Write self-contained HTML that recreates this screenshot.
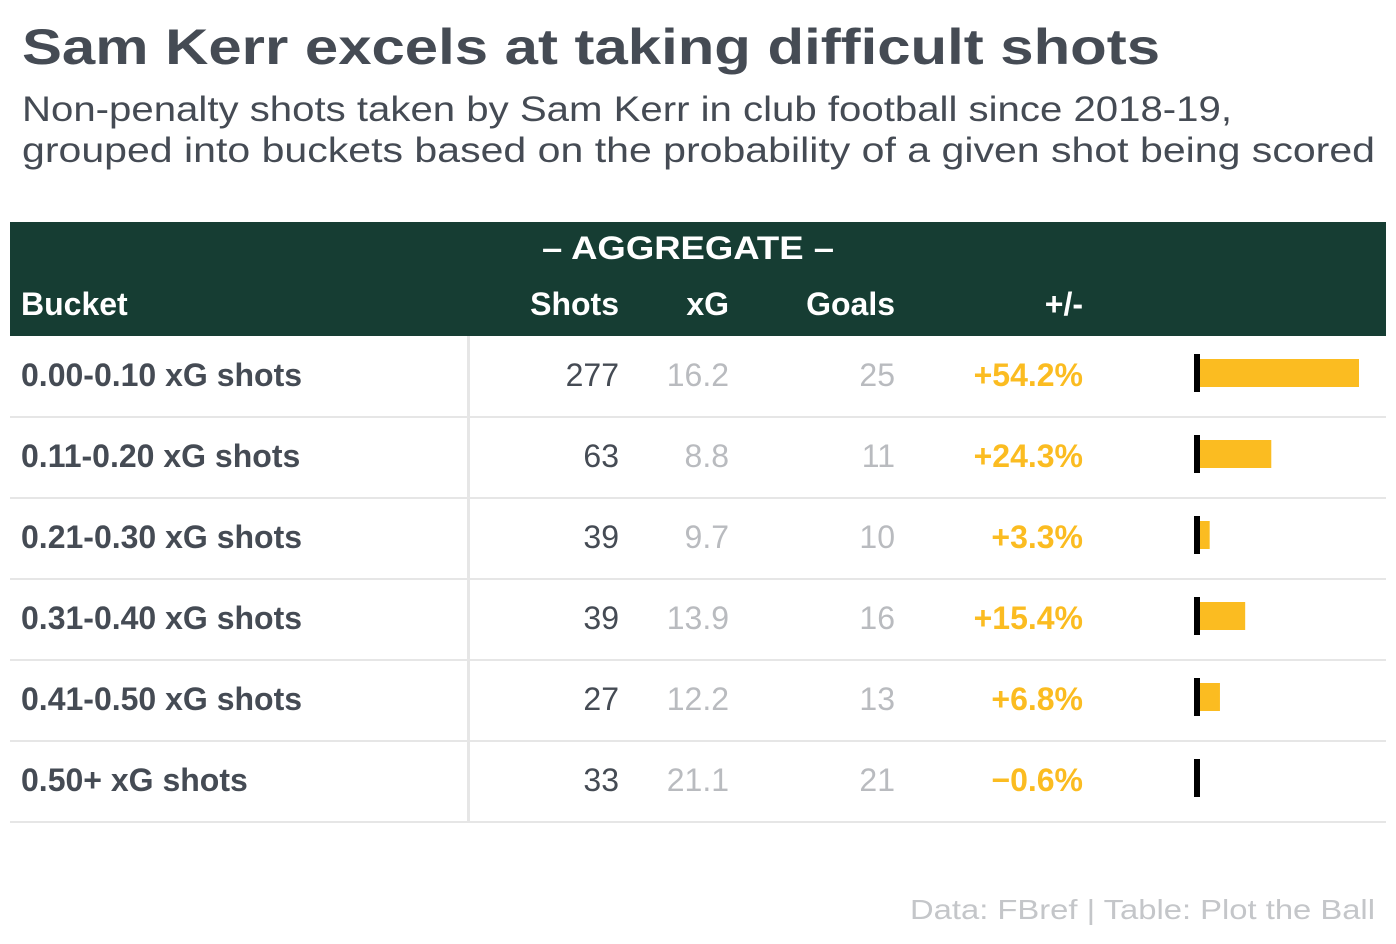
<!DOCTYPE html>
<html><head><meta charset="utf-8"><style>
html,body{margin:0;padding:0;background:#fff;}
svg{display:block;font-family:"Liberation Sans",sans-serif;}
</style></head><body>
<svg id="c" width="1396" height="944" xmlns="http://www.w3.org/2000/svg">
<text x="22" y="64" font-size="50" font-weight="bold" fill="#454b54" textLength="1138" lengthAdjust="spacingAndGlyphs">Sam Kerr excels at taking difficult shots</text>
<text x="22" y="121" font-size="35" fill="#454b54" textLength="1210" lengthAdjust="spacingAndGlyphs">Non-penalty shots taken by Sam Kerr in club football since 2018-19,</text>
<text x="22" y="162" font-size="35" fill="#454b54" textLength="1353" lengthAdjust="spacingAndGlyphs">grouped into buckets based on the probability of a given shot being scored</text>
<rect x="10" y="222" width="1376" height="114" fill="#163d33"/>
<text x="688" y="259" font-size="32" font-weight="bold" fill="#fff" text-anchor="middle" textLength="292" lengthAdjust="spacingAndGlyphs">– AGGREGATE –</text>
<text x="21" y="315" font-size="32" font-weight="bold" fill="#fff">Bucket</text>
<text x="619" y="315" font-size="32" font-weight="bold" fill="#fff" text-anchor="end">Shots</text>
<text x="729" y="315" font-size="32" font-weight="bold" fill="#fff" text-anchor="end">xG</text>
<text x="895" y="315" font-size="32" font-weight="bold" fill="#fff" text-anchor="end">Goals</text>
<text x="1083" y="315" font-size="32" font-weight="bold" fill="#fff" text-anchor="end">+/-</text>
<g id="rows"></g>
<text x="1375" y="919" font-size="28" fill="#c4c6c9" text-anchor="end" textLength="465" lengthAdjust="spacingAndGlyphs">Data: FBref | Table: Plot the Ball</text>
</svg>
<script>
const buckets=["0.00-0.10 xG shots","0.11-0.20 xG shots","0.21-0.30 xG shots","0.31-0.40 xG shots","0.41-0.50 xG shots","0.50+ xG shots"];
const shots=[277,63,39,39,27,33];
const xg=["16.2","8.8","9.7","13.9","12.2","21.1"];
const goals=[25,11,10,16,13,21];
const diff=[54.2,24.3,3.3,15.4,6.8,-0.6];
const NS="http://www.w3.org/2000/svg";
const g=document.getElementById("rows");
const top0=336,rowH=81,barX=1200,pxPer=159/54.2;
function mk(tag,attrs,txt){const e=document.createElementNS(NS,tag);for(const k in attrs)e.setAttribute(k,attrs[k]);if(txt!==undefined)e.textContent=txt;g.appendChild(e);return e;}
buckets.forEach((b,i)=>{
  const y=top0+i*rowH, ty=y+50, cy=y+37;
  let e;
  e=mk("text",{x:21,y:ty,"font-size":32,"font-weight":"bold",fill:"#454b54"},b);
  
  
  e=mk("text",{x:619,y:ty,"font-size":32,fill:"#454b54","text-anchor":"end"},String(shots[i]));
  
  
  e=mk("text",{x:729,y:ty,"font-size":32,fill:"#b9bbbf","text-anchor":"end"},xg[i]);
  
  
  e=mk("text",{x:895,y:ty,"font-size":32,fill:"#b9bbbf","text-anchor":"end"},String(goals[i]));
  
  
  const d=diff[i];
  e=mk("text",{x:1083,y:ty,"font-size":32,"font-weight":"bold",fill:"#fbbc21","text-anchor":"end"},(d>=0?"+":"−")+Math.abs(d).toFixed(1)+"%");
  
  
  const w=Math.abs(d)*pxPer;
  e=mk("rect",{x:d>=0?barX:barX-w,y:cy-14,width:w,height:28,fill:"#fbbc21"});
  
  
  e=mk("rect",{x:1194,y:cy-19,width:6,height:38,fill:"#000"});
  
  
  e=mk("rect",{x:10,y:y+rowH-1,width:1376,height:2,fill:"#e6e6e6"});
  
  
});
const v=mk("rect",{x:467,y:top0,width:3,height:rowH*buckets.length,fill:"#e6e6e6"});


</script>
</body></html>
